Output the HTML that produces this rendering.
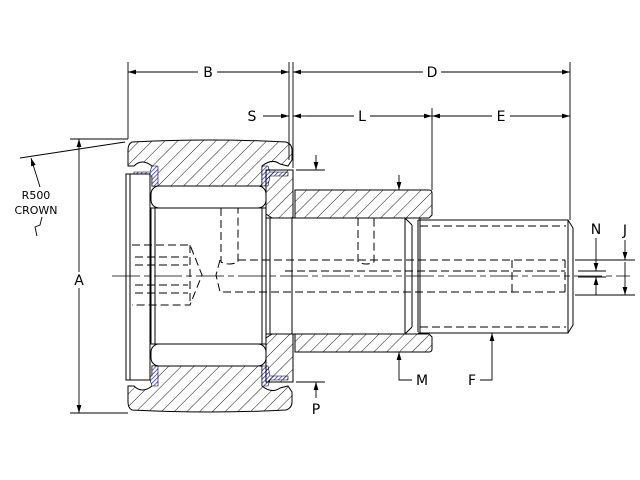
<!DOCTYPE html>
<html><head><meta charset="utf-8"><style>
html,body{margin:0;padding:0;background:#fff;}
svg{display:block;}
text{font-family:"DejaVu Sans","Liberation Sans",sans-serif;font-size:14px;fill:#000;}
</style></head><body>
<svg width="640" height="480" viewBox="0 0 640 480" xmlns="http://www.w3.org/2000/svg">
<defs>
<pattern id="h" width="9" height="9" patternUnits="userSpaceOnUse" patternTransform="rotate(45)">
<line x1="0" y1="0" x2="0" y2="9" stroke="#000" stroke-width="0.9"/>
</pattern>
<pattern id="b" width="3" height="3" patternUnits="userSpaceOnUse" patternTransform="rotate(45)">
<rect width="3" height="3" fill="#fff"/><line x1="0" y1="0" x2="0" y2="3" stroke="#3a3ad8" stroke-width="1.6"/>
</pattern>
<marker id="a" viewBox="0 0 10 6" refX="10" refY="3" markerWidth="8" markerHeight="5" orient="auto-start-reverse" markerUnits="userSpaceOnUse"><path d="M0,0L10,3L0,6z" fill="#000"/></marker>
</defs>
<g stroke="#000" fill="none" stroke-width="1">
<!-- outer ring top -->
<path d="M132,142 Q210,138 286,142 Q292,144 292,150 L292,160 L288,166 L280,164 Q272,158 262,166 L262,186 L152,186 L152,166 Q142,158 134,166 L128,166 L128,150 Q128,144 132,142Z" fill="url(#h)"/>
<!-- outer ring bottom -->
<path d="M132,410 Q210,414 286,410 Q292,408 292,402 L292,392 L288,386 L280,388 Q272,394 262,386 L262,366 L152,366 L152,386 Q142,394 134,386 L128,386 L128,402 Q128,408 132,410Z" fill="url(#h)"/>
<!-- seals -->
<path d="M134,172 L150,172 L152,166 L158,166 L158,186 L152,186 L152,176 L134,176Z" fill="url(#b)" stroke-width="0.6"/>
<path d="M262,166 L268,166 L270,172 L288,172 L288,176 L270,176 L268,186 L262,186Z" fill="url(#b)" stroke-width="0.6"/>
<path d="M134,380 L150,380 L152,386 L158,386 L158,366 L152,366 L152,376 L134,376Z" fill="url(#b)" stroke-width="0.6"/>
<path d="M262,386 L268,386 L270,380 L288,380 L288,376 L270,376 L268,366 L262,366Z" fill="url(#b)" stroke-width="0.6"/>
<!-- end plate left -->
<rect x="126" y="174" width="24" height="206" fill="#fff"/>
<line x1="130" y1="174" x2="130" y2="380"/>
<!-- rollers -->
<rect x="151" y="186" width="115" height="22" rx="8" fill="#fff"/>
<rect x="151" y="344" width="115" height="22" rx="8" fill="#fff"/>
<!-- inner -->
<rect x="151" y="208" width="115" height="136" fill="#fff"/>
<line x1="155" y1="208" x2="155" y2="344"/>
<line x1="262" y1="208" x2="262" y2="344"/>
<!-- right flange hatched -->
<path d="M266,170 L293,170 L293,218 L272,218 L266,214Z" fill="url(#h)"/>
<path d="M266,382 L293,382 L293,334 L272,334 L266,338Z" fill="url(#h)"/>
<rect x="266" y="218" width="27" height="116" fill="#fff"/>
<line x1="270" y1="218" x2="270" y2="334"/>
<!-- stud shoulder hatched -->
<path d="M295,190 L429,190 Q432,190 432,193 L432,215 L429,218 L295,218Z" fill="url(#h)"/>
<path d="M295,352 L429,352 Q432,352 432,349 L432,337 L429,334 L295,334Z" fill="url(#h)"/>
<rect x="292" y="218" width="128" height="116" fill="#fff"/>
<line x1="292" y1="218" x2="292" y2="334"/>
<line x1="405" y1="218" x2="405" y2="334"/>
<line x1="412" y1="225" x2="412" y2="327"/>
<line x1="405" y1="218" x2="412" y2="225"/><line x1="405" y1="334" x2="412" y2="327"/>
<line x1="418" y1="220" x2="418" y2="332"/>
<!-- thread section -->
<path d="M418,220 L568,220 L573,228 L573,325 L568,333 L418,333"/>
<line x1="568" y1="220" x2="568" y2="333"/>
</g>
<!-- dashed hidden lines -->
<g stroke="#000" fill="none" stroke-width="1" stroke-dasharray="8,4">
<line x1="420" y1="226" x2="566" y2="226"/><line x1="420" y1="327" x2="566" y2="327"/>
<path d="M132,245 L190,245 L202,275 L190,305 L132,305"/>
<line x1="135" y1="257" x2="188" y2="257"/><line x1="135" y1="265" x2="188" y2="265"/>
<line x1="135" y1="285" x2="188" y2="285"/><line x1="135" y1="293" x2="188" y2="293"/>
<line x1="190" y1="245" x2="190" y2="305"/>
<path d="M221,208 L221,262 Q229,266 238,262 L238,208"/>
<path d="M238,260 L565,260 M220,260 L216,275 L220,292 L565,292"/>
<path d="M358,218 L358,262 Q366,266 374,262 L374,218"/>
<path d="M512,260 L512,292 M565,260 L565,292"/>
<line x1="285" y1="271" x2="565" y2="271"/>
</g>
<!-- centerline -->
<line x1="112" y1="276" x2="630" y2="276" stroke="#000" stroke-width="0.8" stroke-dasharray="28,4,6,4"/>
<!-- dimensions -->
<g stroke="#000" fill="none" stroke-width="0.9">
<line x1="128" y1="62" x2="128" y2="139"/>
<line x1="289" y1="62" x2="289" y2="160"/>
<line x1="293" y1="62" x2="293" y2="168"/>
<line x1="432" y1="108" x2="432" y2="190"/>
<line x1="570" y1="62" x2="570" y2="220"/>
<line x1="128" y1="72" x2="198" y2="72" marker-start="url(#a)"/><line x1="217" y1="72" x2="289" y2="72" marker-end="url(#a)"/>
<line x1="293" y1="72" x2="423" y2="72" marker-start="url(#a)"/><line x1="441" y1="72" x2="570" y2="72" marker-end="url(#a)"/>
<line x1="263" y1="116" x2="289" y2="116" marker-end="url(#a)"/><line x1="293" y1="116" x2="306" y2="116" marker-start="url(#a)"/>
<line x1="306" y1="116" x2="354" y2="116"/><line x1="370" y1="116" x2="432" y2="116" marker-end="url(#a)"/>
<line x1="432" y1="116" x2="492" y2="116" marker-start="url(#a)"/><line x1="510" y1="116" x2="570" y2="116" marker-end="url(#a)"/>
<line x1="70" y1="139" x2="128" y2="139"/>
<line x1="70" y1="413" x2="128" y2="413"/>
<line x1="79" y1="139" x2="79" y2="272" marker-start="url(#a)"/><line x1="79" y1="288" x2="79" y2="413" marker-end="url(#a)"/>
<line x1="20" y1="158" x2="125" y2="142"/>
<line x1="40" y1="187" x2="31" y2="158" marker-end="url(#a)"/>
<path d="M42,217 L40,225 L35,227 L37,236"/>
<line x1="296" y1="170" x2="325" y2="170"/>
<line x1="316" y1="155" x2="316" y2="170" marker-end="url(#a)"/>
<line x1="296" y1="382" x2="325" y2="382"/>
<line x1="316" y1="398" x2="316" y2="382" marker-end="url(#a)"/>
<line x1="399" y1="175" x2="399" y2="190" marker-end="url(#a)"/>
<path d="M399,367 L399,380 L412,380"/><line x1="399" y1="367" x2="399" y2="352" marker-end="url(#a)"/>
<path d="M492,370 L492,380 L480,380"/><line x1="492" y1="370" x2="492" y2="333" marker-end="url(#a)"/>
<line x1="575" y1="260" x2="635" y2="260"/><line x1="575" y1="295" x2="635" y2="295"/>
<line x1="578" y1="271" x2="606" y2="271"/><line x1="578" y1="277" x2="606" y2="277"/>
<line x1="596" y1="238" x2="596" y2="271" marker-end="url(#a)"/>
<line x1="596" y1="295" x2="596" y2="277" marker-end="url(#a)"/>
<line x1="625" y1="240" x2="625" y2="260" marker-end="url(#a)"/>
<line x1="625" y1="262" x2="625" y2="295" marker-end="url(#a)"/>
</g>
<g text-anchor="middle">
<text x="208" y="77">B</text>
<text x="432" y="77">D</text>
<text x="252" y="121">S</text>
<text x="362" y="121">L</text>
<text x="501" y="121">E</text>
<text x="79" y="285">A</text>
<text x="36" y="199" style="font-size:11px">R500</text>
<text x="36" y="214" style="font-size:11px">CROWN</text>
<text x="316" y="414">P</text>
<text x="422" y="385">M</text>
<text x="472" y="385">F</text>
<text x="596" y="234">N</text>
<text x="625" y="235">J</text>
</g>
</svg>
</body></html>
